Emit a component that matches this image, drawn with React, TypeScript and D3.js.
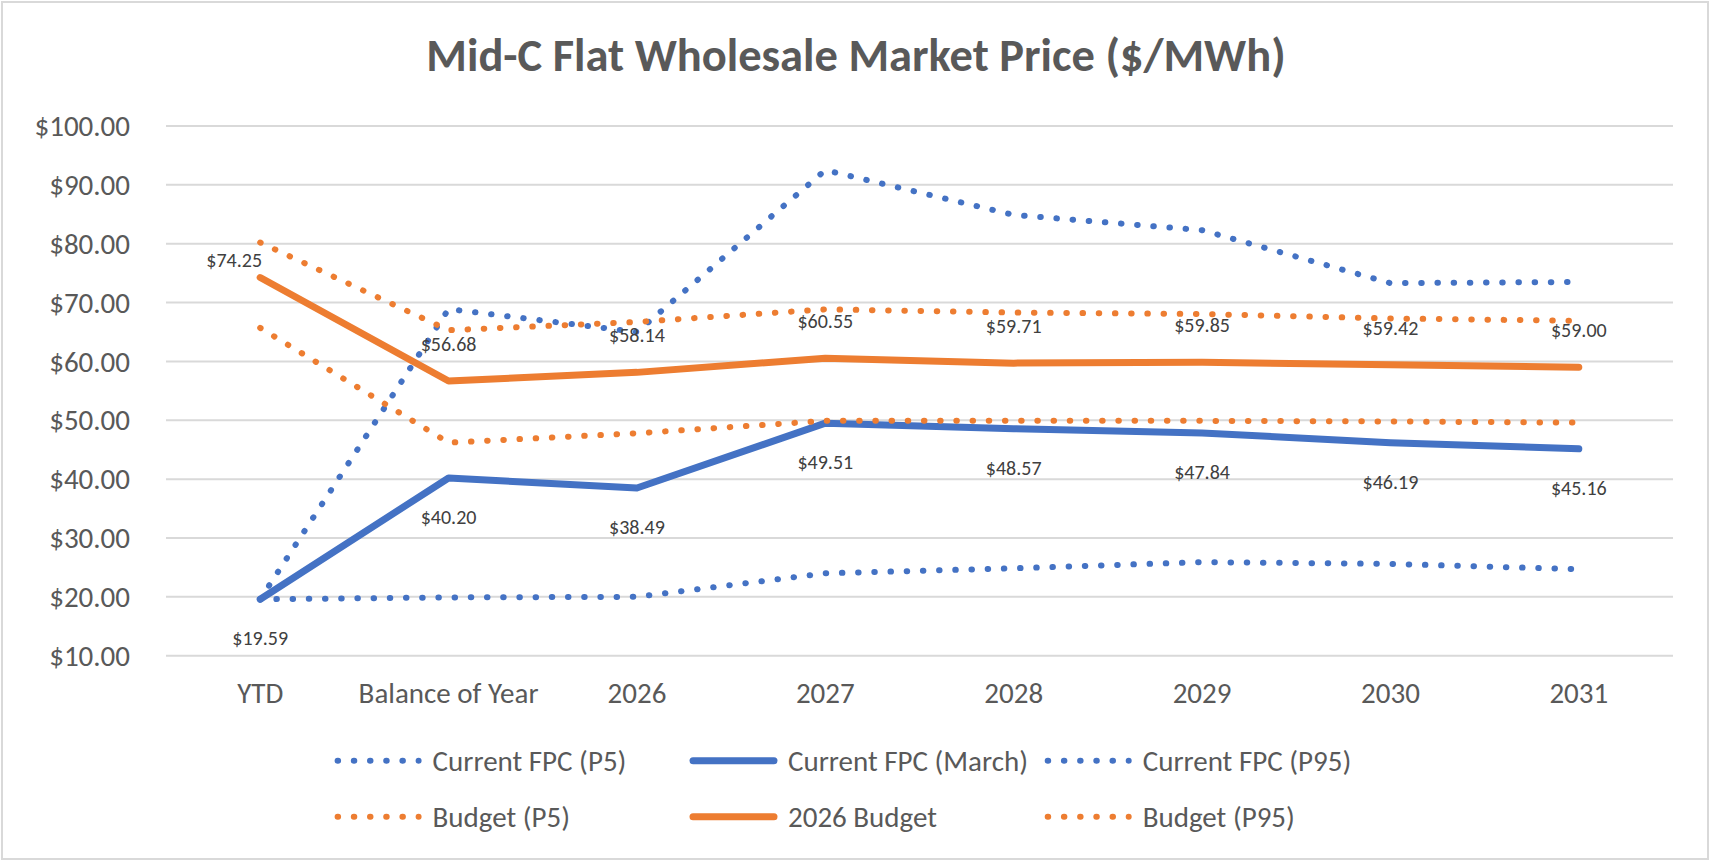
import React from "react";
import * as d3 from "d3";

const categories = ["YTD", "Balance of Year", "2026", "2027", "2028", "2029", "2030", "2031"];
const currentP5 = [19.59, 19.9, 20.0, 24.0, 24.85, 25.9, 25.6, 24.7];
const currentMarch = [19.59, 40.2, 38.49, 49.51, 48.57, 47.84, 46.19, 45.16];
const currentP95 = [19.59, 68.9, 65.0, 92.5, 84.9, 82.3, 73.3, 73.5];
const budgetP5 = [65.7, 46.2, 47.8, 49.9, 49.9, 49.9, 49.8, 49.6];
const budget2026 = [74.25, 56.68, 58.14, 60.55, 59.71, 59.85, 59.42, 59.0];
const budgetP95 = [80.2, 65.3, 66.7, 68.85, 68.3, 68.05, 67.3, 66.9];
const yTicks = [10, 20, 30, 40, 50, 60, 70, 80, 90, 100];

const BLUE = "#4472C4";
const ORANGE = "#ED7D31";
const FONT = "Carlito, Calibri, Lato, sans-serif";

type Series = { name: string; values: number[]; color: string; dotted: boolean };

const seriesList: Series[] = [
  { name: "Current FPC (P5)", values: currentP5, color: BLUE, dotted: true },
  { name: "Current FPC (March)", values: currentMarch, color: BLUE, dotted: false },
  { name: "Current FPC (P95)", values: currentP95, color: BLUE, dotted: true },
  { name: "Budget (P5)", values: budgetP5, color: ORANGE, dotted: true },
  { name: "2026 Budget", values: budget2026, color: ORANGE, dotted: false },
  { name: "Budget (P95)", values: budgetP95, color: ORANGE, dotted: true },
];

export default function App() {
  const W = 1714;
  const H = 862;
  const left = 166;
  const right = 1673;
  const x = d3.scaleBand<string>().domain(categories).range([left, right]).padding(0);
  const cx = (c: string) => (x(c) as number) + x.bandwidth() / 2;
  const y = d3.scaleLinear().domain([10, 100]).range([655.7, 126]);
  const line = d3
    .line<number>()
    .x((_, i) => cx(categories[i]))
    .y((d) => y(d))
    .curve(d3.curveLinear);

  const strokeProps = (s: Series) =>
    s.dotted
      ? { strokeWidth: 6, strokeDasharray: "0.5 15.7", strokeLinecap: "round" as const, strokeLinejoin: "round" as const }
      : { strokeWidth: 7, strokeLinecap: "round" as const, strokeLinejoin: "round" as const };

  const legendCols = [334.6, 690, 1044.7];
  const legendRows = [760.7, 816.7];

  return (
    <div style={{ position: "absolute", left: 0, top: 0 }}>
      <svg width={W} height={H} style={{ display: "block", background: "#fff" }} fontFamily={FONT}>
        <rect x={2} y={2} width={1706} height={857} fill="#fff" stroke="#d9d9d9" strokeWidth={2} />
        <text x={856} y={71} textAnchor="middle" fontSize={46.5} fontWeight={700} fill="#595959">
          Mid-C Flat Wholesale Market Price ($/MWh)
        </text>
        {yTicks.map((t) => (
          <g key={t}>
            <line x1={left} x2={right} y1={y(t)} y2={y(t)} stroke="#d9d9d9" strokeWidth={2} />
            <text x={130} y={y(t)} dy="0.35em" textAnchor="end" fontSize={29} fill="#595959">
              {d3.format("$,.2f")(t)}
            </text>
          </g>
        ))}
        {categories.map((c) => (
          <text key={c} x={cx(c)} y={703} textAnchor="middle" fontSize={29} fill="#595959">
            {c}
          </text>
        ))}
        {seriesList.map((s) => (
          <path key={s.name} d={line(s.values) || ""} fill="none" stroke={s.color} {...strokeProps(s)} />
        ))}
        {currentMarch.map((v, i) => (
          <text key={"m" + i} x={cx(categories[i])} y={y(v) + 39} dy="0.35em" textAnchor="middle" fontSize={20} fill="#404040">
            {d3.format("$.2f")(v)}
          </text>
        ))}
        {budget2026.map((v, i) => (
          <text
            key={"b" + i}
            x={cx(categories[i]) + (i === 0 ? -26 : 0)}
            y={y(v) + (i === 0 ? -18 : -37)}
            dy="0.35em"
            textAnchor="middle"
            fontSize={20}
            fill="#404040"
          >
            {d3.format("$.2f")(v)}
          </text>
        ))}
        {seriesList.map((s, i) => {
          const lx = legendCols[i % 3];
          const ly = legendRows[Math.floor(i / 3)];
          return (
            <g key={"lg" + s.name}>
              <line x1={lx + 3} x2={lx + 84} y1={ly} y2={ly} stroke={s.color} {...strokeProps(s)} />
              <text x={lx + 98} y={ly} dy="0.35em" fontSize={29} fill="#595959">
                {s.name}
              </text>
            </g>
          );
        })}
      </svg>
    </div>
  );
}
